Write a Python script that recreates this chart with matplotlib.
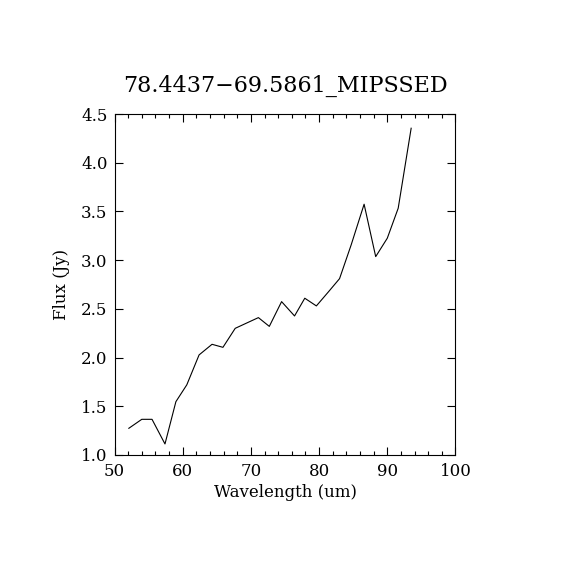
import matplotlib
matplotlib.use("Agg")
import matplotlib.pyplot as plt
from matplotlib.ticker import MultipleLocator

wavelength = [52.1, 54.0, 55.5, 57.4, 59.0, 60.6, 62.4, 64.3, 65.9, 67.7,
              71.1, 72.7, 74.5, 76.4, 77.9, 79.6, 81.4, 83.0, 84.7, 86.6,
              88.3, 90.0, 91.6, 93.5]
flux = [1.274, 1.366, 1.366, 1.113, 1.547, 1.72, 2.027, 2.136, 2.105, 2.30,
        2.41, 2.32, 2.574, 2.427, 2.609, 2.53, 2.677, 2.81, 3.156, 3.574,
        3.036, 3.225, 3.533, 4.354]

title = "78.4437\u221269.5861_MIPSSED"
xlabel = "Wavelength (um)"
ylabel = "Flux (Jy)"

plt.rcParams['font.family'] = ['DejaVu Serif']
fig = plt.figure(figsize=(5.7, 5.7), dpi=100)
ax = fig.add_axes([0.2009, 0.2018, 0.5982, 0.5982])
ax.plot(wavelength, flux, color='black', linewidth=0.8)
ax.set_xlim(50, 100)
ax.set_ylim(1.0, 4.5)
ax.xaxis.set_major_locator(MultipleLocator(10))
ax.xaxis.set_minor_locator(MultipleLocator(2))
ax.yaxis.set_major_locator(MultipleLocator(0.5))
ax.yaxis.set_major_formatter(matplotlib.ticker.FormatStrFormatter('%.1f'))
ax.tick_params(which='both', direction='in', top=True, right=True, labelsize=12, width=0.8)
ax.tick_params(which='major', length=6)
ax.tick_params(axis='x', which='major', pad=6)
ax.tick_params(axis='y', which='major', pad=5)
ax.tick_params(which='minor', length=3)
for s in ax.spines.values():
    s.set_linewidth(0.8)
ax.set_title(title, fontsize=16, pad=16)
ax.set_xlabel(xlabel, fontsize=12, labelpad=3)
ax.set_ylabel(ylabel, fontsize=12, labelpad=8)
fig.savefig("out.png", dpi=100, facecolor='white')
